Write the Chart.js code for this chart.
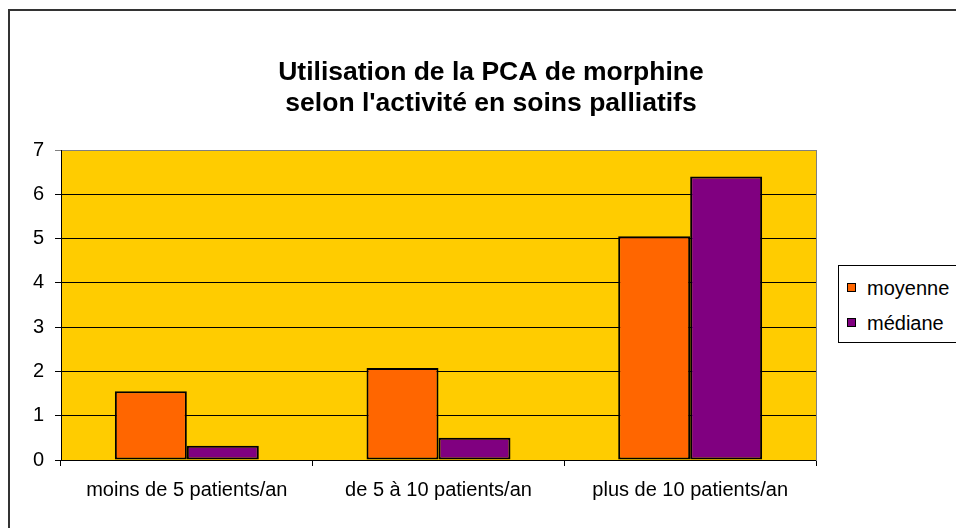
<!DOCTYPE html>
<html lang="fr">
<head>
<meta charset="utf-8">
<title>Utilisation de la PCA de morphine</title>
<script src="https://cdn.jsdelivr.net/npm/chart.js@4/dist/chart.umd.min.js"></script>
<style>
  html, body { margin:0; padding:0; background:#fff; overflow:hidden; }
  #wrap   { position:absolute; left:0; top:0; width:982px; height:528px; }
  #frame  { position:absolute; left:8px; top:9px; width:1000px; height:600px;
            border:2px solid #333; pointer-events:none; }
  #legend { position:absolute; left:838px; top:265px; width:150px; height:76px;
            border:1px solid #000; background:#fff;
            font:20px "Liberation Sans", Arial, sans-serif; color:#000; }
  #legend div { position:absolute; left:28px; line-height:22px; }
  #legend span { position:absolute; left:-20px; top:6px; width:7px; height:7px;
                 border:1px solid #000; }
</style>
</head>
<body>
<div id="wrap"><canvas id="chart"></canvas></div>
<div id="frame"></div>
<div id="legend"></div>
<script>
/* ---------- data ---------- */
const categories = ['moins de 5 patients/an', 'de 5 à 10 patients/an', 'plus de 10 patients/an'];
const moyenne    = [1.55, 2.08, 5.05];
const mediane    = [0.32, 0.50, 6.40];
const yTicks     = [0, 1, 2, 3, 4, 5, 6, 7];
const titleLines = ['Utilisation de la PCA de morphine', "selon l'activité en soins palliatifs"];

const FONT   = '"Liberation Sans", Arial, sans-serif';
const COLORS = { moy:'#FF6600', med:'#800080', plot:'#FFCC00' };

/* ---------- plot area fill ---------- */
const plotBg = {
  id:'plotBg',
  beforeDraw(c){
    const {ctx, chartArea:a} = c;
    ctx.save();
    ctx.fillStyle = COLORS.plot;
    ctx.fillRect(a.left, a.top, a.right-a.left, a.bottom-a.top);
    ctx.restore();
  }
};

const ds = (label,data,color)=>({ label, data, backgroundColor:color,
  borderColor:'#000', borderWidth:2, borderSkipped:false,
  barPercentage:1, categoryPercentage:0.572 });

new Chart(document.getElementById('chart'), {
  type:'bar',
  data:{ labels:categories,
         datasets:[ ds('moyenne',moyenne,COLORS.moy), ds('médiane',mediane,COLORS.med) ] },
  options:{
    responsive:true, maintainAspectRatio:false, animation:false,
    layout:{ padding:0 },
    plugins:{
      legend:{ display:false },
      tooltip:{ enabled:false },
      title:{ display:true, text:titleLines, color:'#000',
              font:{ family:FONT, size:26.5, weight:'bold', lineHeight:1.17 },
              padding:{ top:57, bottom:31 } }
    },
    scales:{
      x:{
        afterFit:s=>{ s.height = 68; },
        grid:{ offset:true, drawOnChartArea:false, tickLength:6, color:'#000' },
        border:{ color:'#000', width:1 },
        ticks:{ color:'#000', padding:12, font:{ family:FONT, size:20 } }
      },
      y:{
        min:0, max:7,
        afterFit:s=>{ s.width = 61; },
        afterBuildTicks:s=>{ s.ticks = yTicks.map(v=>({ value:v })); },
        grid:{ tickLength:6, color:c=>c.tick && c.tick.value===7 ? '#808080' : '#000' },
        border:{ color:'#000', width:1 },
        ticks:{ color:'#000', padding:11, font:{ family:FONT, size:20 } }
      },
      yR:{
        position:'right', min:0, max:7,
        afterFit:s=>{ s.width = 166; },
        grid:{ display:false },
        border:{ color:'#808080', width:1 },
        ticks:{ display:false }
      }
    }
  },
  plugins:[plotBg]
});

/* ---------- legend (html) ---------- */
const legend = document.getElementById('legend');
[['moyenne',COLORS.moy,11],['médiane',COLORS.med,46]].forEach(([t,col,top])=>{
  const d = document.createElement('div');
  d.style.top = top+'px';
  d.innerHTML = `<span style="background:${col}"></span>${t}`;
  legend.appendChild(d);
});
</script>
</body>
</html>
